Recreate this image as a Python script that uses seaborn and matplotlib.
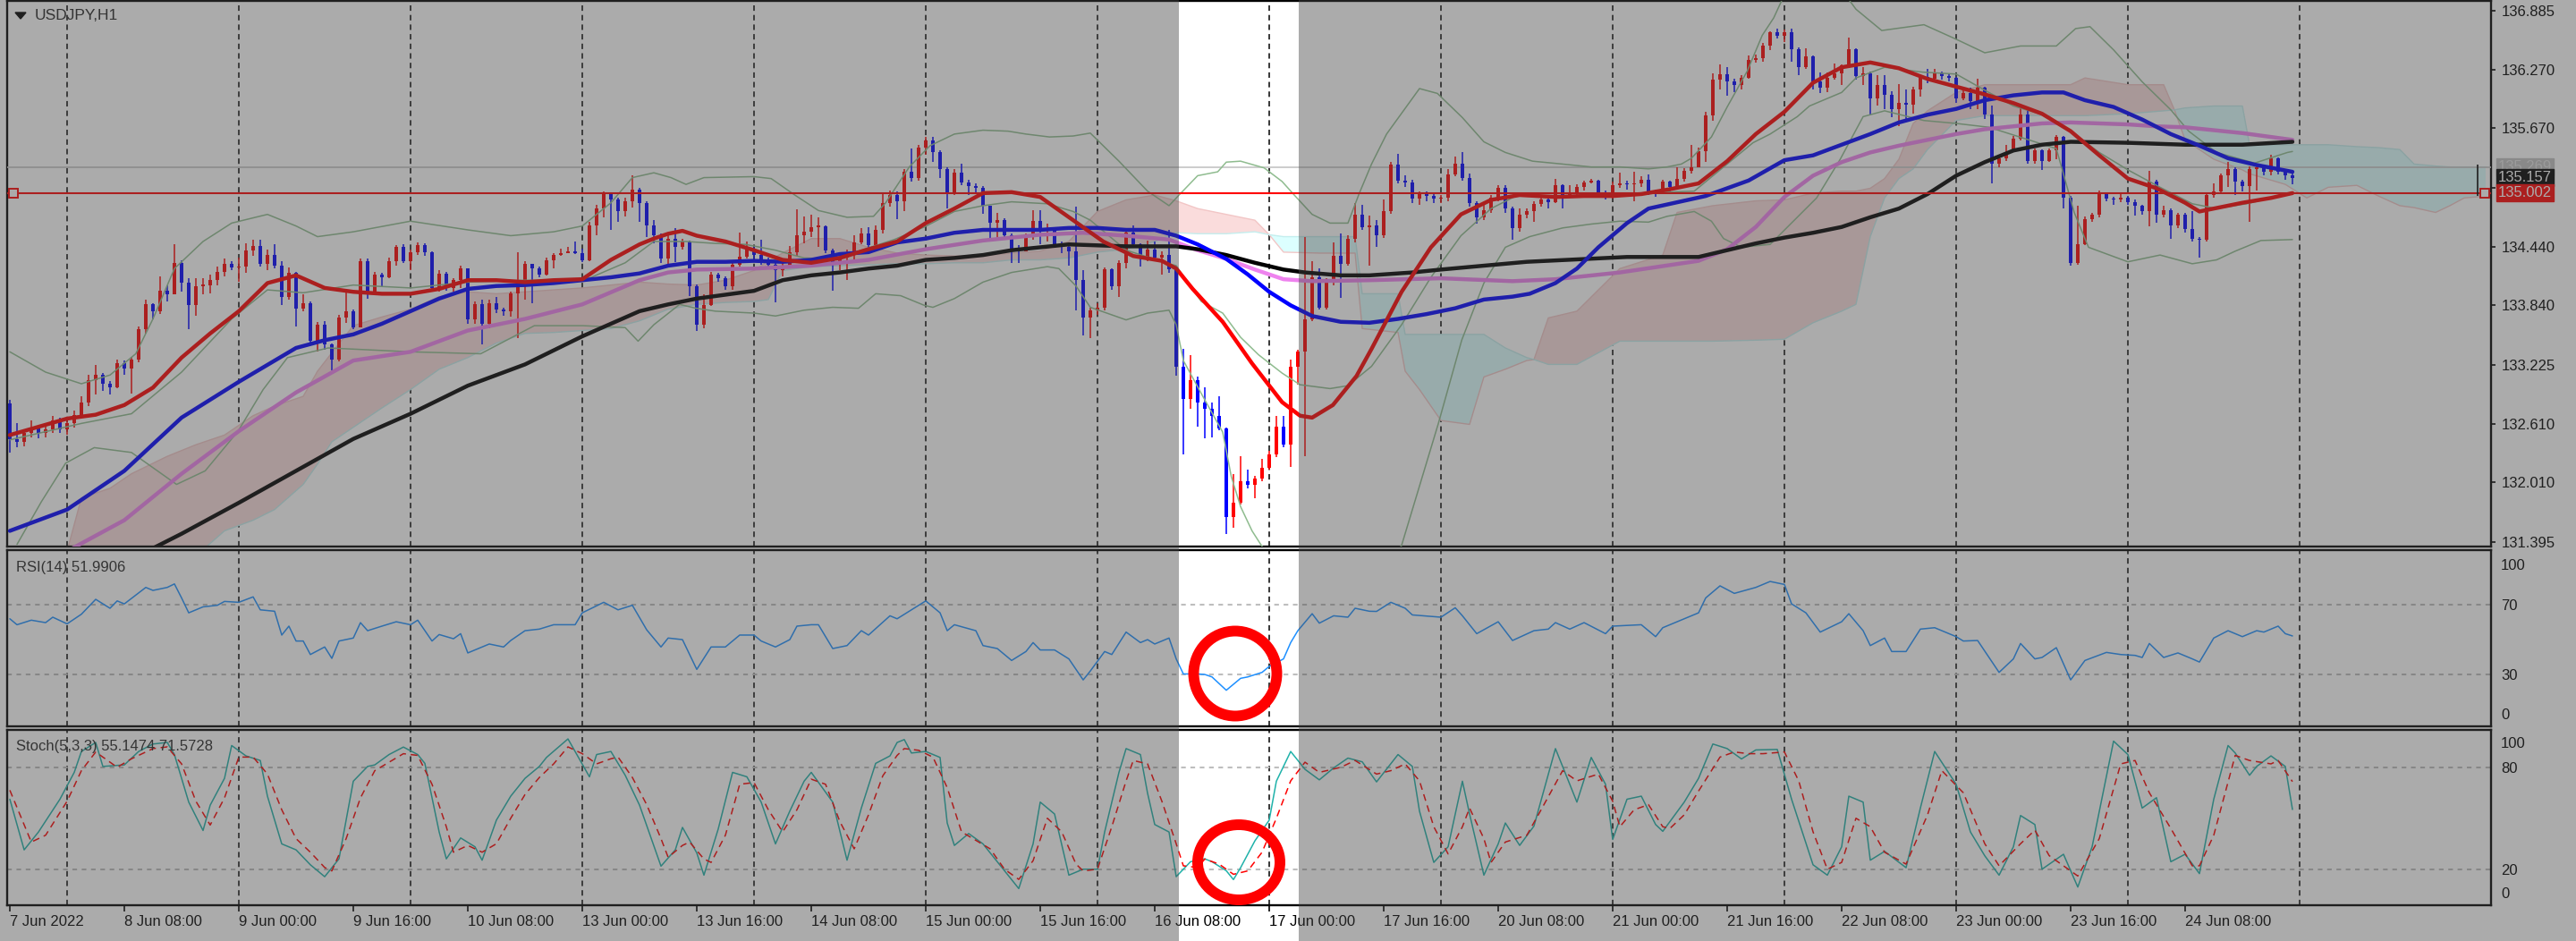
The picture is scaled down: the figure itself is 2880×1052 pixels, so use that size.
import numpy as np
import pandas as pd
import matplotlib
matplotlib.use("Agg")
import matplotlib.pyplot as plt
from matplotlib.patches import Rectangle, Ellipse, Polygon
from matplotlib.transforms import blended_transform_factory
import seaborn as sns

# ---------------- data (USDJPY H1, 7-24 Jun 2022) ----------------
first_open = 132.83
close = [
    132.46, 132.43, 132.52, 132.57, 132.52, 132.56, 132.65, 132.56, 132.62, 132.71,
    132.84, 133.07, 133.12, 133.03, 132.99, 133.24, 133.19, 133.28, 133.59, 133.85,
    133.78, 133.99, 133.95, 134.28, 134.07, 133.84, 134.04, 134.05, 134.10, 134.19,
    134.27, 134.23, 134.24, 134.41, 134.45, 134.27, 134.36, 134.25, 133.93, 134.18,
    133.81, 133.86, 133.47, 133.64, 133.44, 133.28, 133.71, 133.78, 133.61, 134.30,
    133.96, 134.16, 134.13, 134.30, 134.44, 134.30, 134.39, 134.46, 134.39, 134.02,
    134.17, 134.02, 134.10, 134.22, 133.70, 133.85, 133.65, 133.86, 133.80, 133.78,
    133.96, 134.10, 134.27, 134.22, 134.16, 134.31, 134.36, 134.38, 134.40, 134.38,
    134.31, 134.67, 134.84, 134.99, 134.93, 134.81, 134.92, 135.04, 134.90, 134.67,
    134.56, 134.32, 134.53, 134.44, 134.50, 134.04, 133.64, 133.84, 134.16, 134.12,
    134.04, 134.26, 134.34, 134.42, 134.36, 134.30, 134.26, 134.20, 134.25, 134.39,
    134.56, 134.60, 134.65, 134.66, 134.41, 134.29, 134.33, 134.38, 134.49, 134.58,
    134.46, 134.62, 134.90, 134.98, 134.92, 135.22, 135.16, 135.47, 135.54, 135.42,
    135.25, 135.01, 135.21, 135.11, 135.07, 135.05, 134.87, 134.69, 134.72, 134.56,
    134.42, 134.40, 134.55, 134.71, 134.61, 134.62, 134.47, 134.44, 134.40, 134.10,
    133.71, 133.79, 133.82, 134.21, 134.04, 134.28, 134.59, 134.47, 134.32, 134.42,
    134.33, 134.36, 134.21, 133.21, 132.87, 133.07, 132.84, 132.77, 132.70, 132.57,
    131.65, 131.80, 132.02, 131.99, 132.05, 132.16, 132.30, 132.59, 132.40, 133.21,
    133.36, 133.70, 134.13, 133.82, 134.08, 134.35, 134.27, 134.53, 134.78, 134.65,
    134.67, 134.56, 134.81, 135.29, 135.13, 135.11, 134.94, 134.99, 134.97, 134.94,
    134.95, 135.19, 135.30, 135.16, 134.90, 134.75, 134.82, 134.95, 135.05, 134.84,
    134.64, 134.78, 134.81, 134.89, 134.93, 134.91, 135.08, 134.98, 135.00, 135.06,
    135.11, 135.13, 135.01, 134.97, 135.08, 135.10, 135.09, 135.10, 135.14, 135.02,
    135.00, 135.12, 135.06, 135.15, 135.23, 135.27, 135.43, 135.80, 136.17, 136.23,
    136.15, 136.12, 136.19, 136.38, 136.39, 136.52, 136.66, 136.63, 136.66, 136.49,
    136.30, 136.41, 136.15, 136.09, 136.19, 136.24, 136.32, 136.49, 136.21, 136.24,
    135.98, 136.12, 136.02, 135.87, 135.93, 135.91, 136.07, 136.20, 136.18, 136.24,
    136.21, 136.19, 135.98, 136.03, 135.95, 136.09, 135.81, 135.30, 135.36, 135.42,
    135.56, 135.81, 135.33, 135.44, 135.33, 135.44, 135.58, 134.95, 134.28, 134.47,
    134.73, 134.78, 134.99, 134.94, 134.93, 134.95, 134.91, 134.87, 134.81, 135.12,
    134.78, 134.82, 134.67, 134.78, 134.63, 134.53, 134.52, 134.98, 135.02, 135.18,
    135.25, 135.12, 135.07, 135.25, 135.27, 135.22, 135.36, 135.22, 135.18, 135.157,
]
high = [
    132.86, 132.62, 132.56, 132.65, 132.60, 132.60, 132.70, 132.68, 132.66, 132.75,
    132.90, 133.12, 133.22, 133.14, 133.06, 133.28, 133.27, 133.31, 133.62, 133.90,
    133.86, 134.14, 134.05, 134.47, 134.31, 134.12, 134.12, 134.12, 134.16, 134.24,
    134.32, 134.30, 134.33, 134.48, 134.52, 134.52, 134.42, 134.47, 134.30, 134.23,
    134.19, 133.95, 133.88, 133.67, 133.68, 133.45, 133.74, 133.98, 133.80, 134.32,
    134.32, 134.19, 134.18, 134.33, 134.46, 134.47, 134.42, 134.49, 134.48, 134.40,
    134.20, 134.19, 134.12, 134.25, 134.21, 133.88, 133.90, 133.90, 133.93, 133.82,
    133.98, 134.39, 134.30, 134.27, 134.24, 134.33, 134.38, 134.43, 134.44, 134.50,
    134.43, 134.70, 134.88, 135.02, 134.99, 134.95, 134.95, 135.18, 135.05, 134.92,
    134.72, 134.58, 134.56, 134.64, 134.53, 134.51, 134.06, 133.95, 134.19, 134.18,
    134.14, 134.28, 134.59, 134.50, 134.44, 134.52, 134.33, 134.28, 134.28, 134.45,
    134.83, 134.76, 134.78, 134.75, 134.67, 134.43, 134.37, 134.42, 134.56, 134.64,
    134.65, 134.67, 134.99, 135.03, 135.02, 135.25, 135.46, 135.50, 135.58, 135.58,
    135.44, 135.27, 135.25, 135.30, 135.14, 135.10, 135.07, 134.86, 134.80, 134.74,
    134.58, 134.46, 134.58, 134.82, 134.82, 134.68, 134.64, 134.50, 134.47, 134.86,
    134.20, 133.82, 133.86, 134.23, 134.22, 134.31, 134.61, 134.67, 134.48, 134.51,
    134.50, 134.40, 134.62, 134.25, 133.39, 133.33, 133.10, 132.99, 132.84, 132.90,
    132.58, 132.10, 132.28, 132.14, 132.08, 132.25, 132.34, 132.70, 132.70, 133.28,
    133.38, 134.55, 134.30, 134.22, 134.12, 134.49, 134.58, 134.56, 134.90, 134.88,
    134.77, 134.72, 134.93, 135.32, 135.41, 135.18, 135.14, 135.02, 135.02, 135.00,
    134.98, 135.25, 135.38, 135.42, 135.20, 134.92, 134.88, 134.98, 135.08, 135.08,
    134.86, 134.84, 134.84, 134.92, 134.96, 134.95, 135.15, 135.09, 135.08, 135.09,
    135.13, 135.15, 135.14, 135.03, 135.12, 135.21, 135.13, 135.22, 135.17, 135.19,
    135.04, 135.14, 135.13, 135.27, 135.26, 135.50, 135.47, 135.84, 136.24, 136.33,
    136.30, 136.18, 136.22, 136.42, 136.43, 136.55, 136.67, 136.70, 136.69, 136.70,
    136.51, 136.50, 136.42, 136.25, 136.25, 136.34, 136.33, 136.61, 136.50, 136.30,
    136.26, 136.22, 136.22, 136.05, 136.13, 136.07, 136.10, 136.22, 136.28, 136.28,
    136.26, 136.24, 136.20, 136.06, 136.09, 136.18, 136.10, 135.90, 135.38, 135.50,
    135.59, 135.89, 135.89, 135.46, 135.45, 135.46, 135.60, 135.59, 134.97, 134.87,
    134.76, 134.80, 135.03, 135.01, 134.96, 135.00, 134.97, 134.93, 134.88, 135.23,
    135.14, 134.87, 134.84, 134.80, 134.80, 134.81, 134.55, 135.00, 135.10, 135.20,
    135.32, 135.27, 135.14, 135.28, 135.28, 135.28, 135.40, 135.37, 135.23, 135.20,
]
low = [
    132.32, 132.37, 132.38, 132.48, 132.47, 132.48, 132.52, 132.52, 132.50, 132.58,
    132.68, 132.80, 132.92, 132.96, 132.92, 132.98, 133.12, 132.93, 133.25, 133.55,
    133.70, 133.75, 133.88, 133.95, 133.98, 133.59, 133.73, 133.95, 133.96, 134.05,
    134.14, 134.20, 134.08, 134.18, 134.35, 134.24, 134.20, 134.22, 133.84, 133.90,
    133.62, 133.78, 133.44, 133.36, 133.38, 133.17, 133.26, 133.66, 133.59, 133.62,
    133.91, 133.95, 134.03, 134.12, 134.25, 134.28, 134.20, 134.36, 134.35, 133.98,
    133.98, 133.99, 133.98, 134.02, 133.65, 133.65, 133.44, 133.60, 133.76, 133.73,
    133.72, 133.50, 133.90, 133.86, 134.13, 134.15, 134.22, 134.35, 134.38, 134.37,
    134.29, 134.30, 134.56, 134.75, 134.62, 134.70, 134.76, 134.85, 134.70, 134.55,
    134.48, 134.28, 134.27, 134.29, 134.42, 133.94, 133.58, 133.60, 133.83, 134.08,
    134.00, 134.00, 134.24, 134.32, 134.30, 134.26, 134.22, 133.87, 134.14, 134.22,
    134.35, 134.48, 134.55, 134.44, 134.38, 133.99, 134.20, 134.10, 134.30, 134.47,
    134.43, 134.44, 134.58, 134.86, 134.73, 134.81, 135.12, 135.13, 135.40, 135.32,
    135.16, 134.84, 134.98, 135.08, 134.98, 135.00, 134.79, 134.53, 134.53, 134.52,
    134.28, 134.28, 134.40, 134.52, 134.47, 134.50, 134.44, 134.38, 134.25, 133.79,
    133.53, 133.50, 133.74, 133.79, 134.00, 133.93, 134.22, 134.44, 134.24, 134.30,
    134.30, 134.16, 134.18, 133.11, 132.30, 132.77, 132.59, 132.47, 132.48, 132.55,
    131.48, 131.54, 131.78, 131.95, 131.85, 132.02, 132.14, 132.27, 132.37, 132.17,
    133.02, 132.28, 133.68, 133.80, 133.80, 134.05, 133.92, 134.25, 134.49, 134.62,
    134.25, 134.44, 134.54, 134.79, 135.10, 135.06, 134.90, 134.88, 134.92, 134.90,
    134.90, 134.92, 135.17, 135.13, 134.86, 134.68, 134.72, 134.80, 134.92, 134.80,
    134.52, 134.60, 134.74, 134.70, 134.86, 134.84, 134.90, 134.84, 134.96, 134.98,
    135.03, 135.10, 134.98, 134.93, 134.94, 135.05, 135.04, 134.92, 135.06, 134.98,
    134.96, 134.99, 135.02, 135.04, 135.12, 135.20, 135.28, 135.32, 135.75, 136.07,
    136.01, 136.04, 136.07, 136.18, 136.35, 136.36, 136.48, 136.60, 136.56, 136.36,
    136.22, 136.28, 136.07, 136.03, 136.04, 136.17, 136.12, 136.30, 136.17, 136.12,
    135.81, 135.90, 135.87, 135.78, 135.69, 135.76, 135.82, 136.00, 136.14, 136.16,
    136.17, 136.15, 135.93, 135.96, 135.87, 135.87, 135.77, 135.10, 135.27, 135.33,
    135.42, 135.54, 135.30, 135.30, 135.24, 135.32, 135.35, 134.84, 134.25, 134.26,
    134.46, 134.70, 134.75, 134.92, 134.88, 134.91, 134.88, 134.77, 134.78, 134.66,
    134.69, 134.75, 134.53, 134.64, 134.59, 134.50, 134.33, 134.50, 134.95, 135.00,
    135.06, 134.98, 135.02, 134.70, 135.03, 135.18, 135.18, 135.19, 135.14, 135.09,
]

# moving averages (bar index, price)
ma_red_bar = [0, 8, 12, 16, 20, 24, 28, 32, 36, 40, 44, 48, 52, 56, 60, 64, 68, 72, 76, 80,
              84, 88, 90, 92, 94, 96, 100, 104, 108, 112, 116, 120, 124, 128, 132, 136, 140, 144, 148.6, 152.8,
              157, 161, 163, 165.3, 169.5, 173.6, 177.8, 180.3, 182, 184.9, 188.2, 190.3, 194.5, 198.6, 202.8, 207, 211, 216, 220, 224,
              228, 232, 236, 240, 244, 248, 252, 256, 260, 264, 268, 272, 276, 280, 284, 288, 292, 296, 300, 304,
              306, 308, 312, 316, 319]
ma_red = [132.50, 132.67, 132.71, 132.81, 132.99, 133.30, 133.55, 133.78, 134.07, 134.15,
          134.02, 133.98, 133.96, 133.96, 134.01, 134.10, 134.10, 134.08, 134.10, 134.11,
          134.31, 134.47, 134.53, 134.58, 134.61, 134.56, 134.50, 134.41, 134.31, 134.28,
          134.33, 134.42, 134.50, 134.69, 134.84, 135.00, 135.01, 134.96, 134.72, 134.50,
          134.35, 134.30, 134.22, 134.01, 133.67, 133.24, 132.84, 132.70, 132.68, 132.81,
          133.11, 133.39, 133.98, 134.44, 134.78, 134.93, 134.98, 134.96, 134.97, 134.97,
          134.99, 135.04, 135.10, 135.33, 135.61, 135.84, 136.14, 136.30, 136.35, 136.29,
          136.18, 136.10, 136.02, 135.93, 135.82, 135.64, 135.39, 135.15, 135.05, 134.90,
          134.81, 134.84, 134.90, 134.95, 135.00]
ma_blue_bar = [0, 8, 16, 24, 32, 40, 44, 48, 52, 56, 60, 64, 68, 72, 76, 80, 84, 88, 92, 96,
               100, 104, 108, 112, 116, 120, 124, 128, 132, 136, 140, 144, 148, 152, 156, 160, 163, 166, 170, 173,
               176, 179, 182, 186, 190, 194, 198, 202, 206, 210, 212.4, 216, 219, 222, 226, 229, 237, 243, 248, 252,
               256, 260, 264, 268, 272, 276, 280, 284, 287, 290, 294, 298, 302, 306, 310, 314, 319]
ma_blue = [131.51, 131.73, 132.13, 132.68, 133.05, 133.40, 133.48, 133.54, 133.65, 133.78,
           133.91, 134.01, 134.04, 134.05, 134.07, 134.10, 134.13, 134.17, 134.25, 134.29,
           134.29, 134.30, 134.29, 134.31, 134.37, 134.39, 134.49, 134.53, 134.59, 134.62,
           134.62, 134.62, 134.64, 134.64, 134.62, 134.62, 134.56, 134.47, 134.32, 134.16,
           133.98, 133.84, 133.73, 133.67, 133.66, 133.70, 133.75, 133.81, 133.90, 133.93,
           133.96, 134.07, 134.22, 134.44, 134.69, 134.84, 134.97, 135.13, 135.34, 135.39,
           135.50, 135.61, 135.73, 135.81, 135.87, 135.96, 136.01, 136.04, 136.04, 135.96,
           135.89, 135.76, 135.61, 135.49, 135.36, 135.29, 135.22]
ma_pink_bar = [8, 16, 24, 32, 40, 48, 56, 64, 72, 80, 88, 92, 96, 104, 112, 120, 128, 136, 144, 150,
               156, 162, 166, 170, 174, 178, 182, 190, 200, 210, 216, 225, 236, 240, 244, 248, 252, 256, 260, 264,
               268, 272, 276, 280, 284, 288, 292, 296, 300, 304, 308, 312, 316, 319]
ma_pink = [131.30, 131.62, 132.10, 132.54, 132.94, 133.27, 133.36, 133.58, 133.70, 133.85,
           134.10, 134.18, 134.21, 134.22, 134.25, 134.31, 134.42, 134.51, 134.57, 134.59,
           134.56, 134.52, 134.41, 134.32, 134.21, 134.11, 134.09, 134.10, 134.12, 134.09,
           134.11, 134.18, 134.30, 134.42, 134.65, 134.96, 135.18, 135.32, 135.42, 135.49,
           135.55, 135.61, 135.66, 135.69, 135.72, 135.73, 135.72, 135.71, 135.69, 135.68,
           135.65, 135.62, 135.58, 135.55]
ma_black_bar = [20, 24, 32, 40, 48, 56, 64, 72, 80, 88, 92, 96, 100, 104, 108, 112, 116, 120, 124, 128,
                132, 136, 140, 144, 148, 156, 163, 166, 170, 174, 178, 181, 186, 190, 196, 200, 206, 212, 226, 236,
                240, 244, 248, 252, 256, 260, 264, 268, 272, 276, 280, 284, 288, 296, 304, 312, 319]
ma_black = [131.33, 131.48, 131.80, 132.13, 132.46, 132.72, 133.01, 133.23, 133.52, 133.78,
            133.85, 133.91, 133.95, 133.99, 134.10, 134.15, 134.18, 134.22, 134.25, 134.31,
            134.33, 134.36, 134.41, 134.44, 134.47, 134.45, 134.45, 134.42, 134.36, 134.28,
            134.21, 134.18, 134.15, 134.15, 134.18, 134.21, 134.25, 134.29, 134.34, 134.34,
            134.41, 134.48, 134.54, 134.59, 134.65, 134.75, 134.84, 134.99, 135.18, 135.32,
            135.44, 135.50, 135.53, 135.52, 135.50, 135.50, 135.53]

# Bollinger bands
bb_up_bar = [0, 5, 10, 14, 17.6, 20, 23, 27, 31, 36, 40, 43, 48, 56, 64, 70, 76, 80, 84, 87,
             90, 92.4, 94.5, 97, 104, 106.4, 109.5, 113, 117, 120.7, 122.4, 125.7, 128.6, 132, 136, 139.5, 142, 145.3, 148.6, 151,
             155, 159, 162, 163.4, 166, 168.8, 170, 172, 175.3, 177.8, 179.5, 182, 184.5, 187, 188.6, 190.3, 192.4, 197, 199.5, 203,
             206, 209, 212.8, 217, 221, 225, 229, 231.6, 233.6, 235, 237.8, 240, 242.8, 244.9, 246.5, 248, 252, 256, 258, 261.6,
             267.5, 272, 276, 281, 286, 288.7, 290.7, 294, 298, 302, 304.5, 308.4, 313.7, 318.3, 319]
bb_up = [133.36, 133.15, 133.03, 133.12, 133.34, 133.70, 134.22, 134.50, 134.69, 134.78,
         134.66, 134.55, 134.60, 134.71, 134.62, 134.56, 134.60, 134.66, 134.90, 135.16,
         135.21, 135.16, 135.09, 135.16, 135.17, 135.15, 134.99, 134.82, 134.75, 134.76,
         134.90, 135.27, 135.49, 135.61, 135.65, 135.64, 135.61, 135.58, 135.59, 135.62,
         135.33, 135.02, 134.87, 134.98, 135.18, 135.22, 135.32, 135.33, 135.26, 135.12,
         134.98, 134.78, 134.69, 134.69, 135.00, 135.30, 135.61, 136.08, 136.03, 135.78,
         135.53, 135.42, 135.33, 135.30, 135.27, 135.27, 135.25, 135.27, 135.30, 135.36,
         135.58, 135.89, 136.26, 136.63, 136.81, 137.05, 137.20, 137.10, 136.90, 136.68,
         136.74, 136.59, 136.45, 136.52, 136.52, 136.70, 136.72, 136.48, 136.15, 135.86,
         135.64, 135.42, 135.31, 135.42, 135.43]
bb_mid_bar = [0, 10, 17, 24, 31, 36, 41, 48, 56, 64, 72, 80, 86, 90, 94.5, 98.6, 102.8, 107, 111, 115,
              119, 123.6, 127.8, 132, 136, 140, 145, 148.6, 151, 156, 162, 163, 166.5, 169.5, 172, 174.5, 177.8, 180.3, 184.5, 187,
              190.3, 194.5, 198.6, 202.8, 207, 211, 216, 220, 228, 235.4, 239.5, 243.6, 246, 249.8, 251.5, 256, 258, 262, 267.3, 272,
              275.6, 280, 285, 288.5, 292, 296, 300.5, 305, 308.4, 312.6, 319]
bb_mid = [132.45, 132.62, 132.72, 133.15, 133.70, 134.00, 133.97, 134.05, 134.02, 134.08,
          134.10, 134.09, 134.28, 134.50, 134.50, 134.48, 134.47, 134.41, 134.33, 134.32,
          134.41, 134.52, 134.65, 134.81, 134.87, 134.91, 134.89, 134.81, 134.72, 134.41,
          134.27, 134.25, 133.88, 133.76, 133.51, 133.33, 133.14, 133.02, 132.98, 133.01,
          133.21, 133.64, 134.13, 134.56, 134.84, 134.99, 134.95, 134.98, 135.00, 135.02,
          135.27, 135.52, 135.61, 135.79, 135.90, 136.04, 136.19, 136.30, 136.25, 136.23,
          136.08, 135.90, 135.79, 135.61, 135.42, 135.24, 135.06, 134.89, 134.84, 134.89,
          135.00]
bb_lo_bar = [1, 4.4, 7.8, 11.8, 17, 23.3, 27.3, 31.9, 35.4, 38.8, 44.5, 56, 65.8, 73.3, 80.1, 86, 87.8, 90, 93.6, 95.9,
             98.6, 104, 107, 111, 115, 118.6, 121, 124.5, 127.8, 129, 132, 136, 140, 145, 146.6, 149, 151, 156, 159, 162,
             163, 164, 166.5, 169.5, 170.7, 172, 173.6, 174.9, 180, 186, 190, 194.5, 199.6, 202.9, 206, 209, 212.4, 217, 221, 225,
             229, 231.6, 235.4, 237.8, 239.5, 242, 246, 252.5, 255.8, 259, 262, 267.5, 272, 276.6, 286, 288.5, 290.5, 296, 300.5, 305,
             308.4, 311, 314.6, 319]
bb_lo = [131.37, 131.81, 132.21, 132.37, 132.32, 131.99, 132.13, 132.54, 132.97, 133.30,
         133.40, 133.36, 133.34, 133.63, 133.63, 133.61, 133.47, 133.64, 133.85, 133.81,
         133.78, 133.76, 133.73, 133.79, 133.82, 133.81, 133.96, 133.94, 133.84, 133.82,
         133.91, 134.08, 134.18, 134.24, 134.22, 134.04, 133.82, 133.69, 133.76, 133.79,
         133.64, 133.27, 132.93, 132.53, 132.07, 131.76, 131.51, 131.36, 130.90, 130.70,
         130.85, 131.36, 132.61, 133.48, 134.07, 134.44, 134.55, 134.64, 134.68, 134.71,
         134.70, 134.76, 134.81, 134.71, 134.53, 134.44, 134.47, 134.95, 135.35, 135.79,
         135.85, 135.75, 135.72, 135.68, 135.46, 134.80, 134.44, 134.29, 134.36, 134.27,
         134.31, 134.40, 134.51, 134.52]

# Ichimoku cloud (senkou span A / B)
cloud_bar = [8, 10, 14, 17, 22, 26, 30, 34, 37, 41, 43, 45, 48, 52, 56, 60, 64, 68, 72, 76,
             80, 84, 88, 92, 96, 100, 104, 106, 108, 112, 116, 120, 124, 128, 132, 136, 140, 144, 148, 152,
             156, 160, 163, 166, 170, 174, 176, 178, 183, 188, 189, 194, 195, 197, 200, 204, 206, 209, 212, 213,
             215, 219, 222, 225, 231, 233, 238, 244, 248, 252, 256, 258, 260, 262, 264, 266, 268, 272, 276, 282,
             288, 290, 296, 301, 302.5, 304, 308, 312, 313, 318, 321, 324, 328, 331, 334, 336, 339, 341, 343, 346]
span_a = [131.30, 131.85, 131.95, 132.10, 132.28, 132.40, 132.50, 132.70, 132.80, 132.90,
          133.16, 133.35, 133.63, 133.72, 133.80, 133.93, 133.98, 133.96, 133.98, 134.00,
          134.02, 134.05, 134.08, 134.06, 134.05, 134.10, 134.20, 134.30, 134.38, 134.53,
          134.53, 134.44, 134.38, 134.36, 134.35, 134.35, 134.38, 134.40, 134.50, 134.81,
          134.93, 134.98, 134.92, 134.84, 134.78, 134.72, 134.57, 134.39, 134.38, 134.38,
          133.60, 133.56, 133.16, 132.97, 132.65, 132.61, 133.10, 133.18, 133.27, 133.28,
          133.71, 133.78, 134.00, 134.22, 134.36, 134.80, 134.87, 134.92, 134.93, 135.00,
          135.02, 135.02, 135.05, 135.15, 135.35, 135.72, 135.85, 136.04, 136.12, 136.12,
          136.12, 136.19, 136.12, 136.12, 135.86, 135.55, 135.35, 135.24, 135.20, 135.09,
          134.95, 135.06, 135.08, 134.97, 134.87, 134.85, 134.80, 134.87, 134.95, 134.97]
span_b = [130.90, 130.90, 130.95, 131.00, 131.10, 131.25, 131.51, 131.62, 131.73, 131.99,
          132.20, 132.43, 132.58, 132.78, 132.97, 133.18, 133.30, 133.45, 133.55, 133.56,
          133.58, 133.60, 133.68, 133.80, 133.85, 133.87, 133.88, 133.90, 134.20, 134.24,
          134.25, 134.26, 134.27, 134.27, 134.28, 134.28, 134.31, 134.31, 134.33, 134.39,
          134.42, 134.50, 134.59, 134.58, 134.58, 134.60, 134.57, 134.55, 134.55, 134.55,
          133.96, 133.96, 133.54, 133.54, 133.54, 133.54, 133.54, 133.40, 133.30, 133.28,
          133.23, 133.23, 133.35, 133.47, 133.47, 133.47, 133.47, 133.48, 133.49, 133.66,
          133.78, 133.85, 134.55, 134.95, 135.15, 135.25, 135.45, 135.75, 135.80, 135.80,
          135.80, 135.80, 135.82, 135.85, 135.86, 135.88, 135.90, 135.90, 135.50, 135.50,
          135.50, 135.50, 135.48, 135.47, 135.45, 135.30, 135.28, 135.27, 135.27, 135.27]

# RSI(14)
rsi_bar = [0, 1, 3, 5, 6, 8, 10, 12, 14, 15, 16, 19, 20, 22, 23, 24, 25, 27, 29, 30,
           32, 34, 35, 37, 38, 39, 40, 41, 42, 44, 45, 46, 48, 49, 50, 52, 54, 56, 57, 59,
           60, 62, 63, 64, 66, 67, 69, 70, 72, 74, 76, 79, 80, 83, 85, 87, 89, 91, 92, 94,
           96, 98, 100, 102, 104, 105, 107, 109, 110, 112, 113, 115, 117, 119, 120, 123, 124, 126, 128, 130,
           131, 132, 135, 136, 138, 140, 142, 143, 144, 146, 148, 150, 151, 153, 154, 156, 158, 159, 160, 162,
           163, 164, 166, 167, 168, 170, 172, 173, 175, 176, 178, 179, 180, 182, 183, 185, 187, 188, 190, 191,
           193, 195, 196, 200, 202, 203, 205, 208, 210, 213, 215, 216, 218, 220, 223, 224, 228, 230, 231, 236,
           237, 239, 241, 244, 246, 248, 249, 251, 253, 256, 257, 259, 260, 262, 263, 265, 267, 269, 272, 273,
           275, 278, 280, 281, 283, 284, 286, 288, 290, 293, 295, 297, 298, 299, 301, 303, 305, 306, 308, 310,
           312, 314, 315, 317, 318, 319]
rsi_val = [61.8, 58.4, 61.0, 59.6, 62.7, 58.9, 64.4, 72.9, 67.8, 72.0, 70.3, 79.7, 78.0, 79.7, 81.7, 73.7, 65.2, 68.6, 69.5, 71.7,
           71.2, 74.3, 66.9, 66.1, 52.5, 57.6, 49.1, 49.1, 41.4, 45.7, 39.2, 49.1, 50.8, 59.6, 55.0, 57.6, 60.1, 58.4, 61.0, 49.1,
           52.8, 50.4, 53.3, 42.3, 45.7, 47.4, 45.7, 49.4, 55.0, 55.9, 58.4, 58.4, 65.2, 71.2, 66.9, 69.5, 55.5, 45.7, 50.8, 49.9,
           32.9, 45.7, 45.7, 52.5, 52.5, 49.1, 45.7, 49.9, 57.6, 58.4, 58.4, 44.8, 46.5, 55.0, 52.5, 63.5, 61.8, 66.9, 72.0, 65.2,
           55.0, 58.4, 55.0, 46.5, 44.8, 38.0, 43.1, 48.2, 44.0, 44.0, 38.9, 26.9, 32.0, 43.1, 41.4, 54.2, 48.2, 49.9, 47.4, 50.8,
           38.9, 30.3, 30.3, 30.0, 28.6, 21.0, 27.8, 28.6, 31.2, 34.6, 38.9, 48.2, 55.0, 64.7, 59.3, 63.5, 62.7, 67.8, 66.1, 66.0,
           71.2, 67.8, 64.0, 62.7, 68.1, 63.5, 53.3, 60.1, 49.4, 55.0, 55.9, 59.6, 55.9, 59.6, 53.3, 57.6, 58.4, 51.6, 56.7, 65.2,
           73.7, 80.6, 76.3, 79.7, 83.1, 81.4, 70.3, 65.2, 54.2, 60.1, 64.7, 55.0, 46.5, 50.8, 43.1, 43.1, 55.9, 56.7, 51.6, 49.1,
           49.4, 31.2, 38.9, 47.7, 38.9, 39.7, 45.3, 26.9, 38.0, 42.6, 41.4, 40.9, 39.7, 47.7, 39.7, 42.3, 38.9, 37.1, 50.8, 55.0,
           51.6, 55.0, 54.2, 57.6, 53.3, 51.99]

# Stochastic(5,3,3): main and signal
st_bar = [0, 2, 4, 7, 9, 10, 12, 13, 16, 18, 20, 22, 23, 25, 27, 28, 30, 31, 33, 35,
          36, 38, 40, 42, 44, 46, 48, 50, 51, 53, 55, 57, 58, 60, 61, 63, 65, 66, 68, 70,
          72, 74, 75, 78, 79, 81, 82, 84, 86, 88, 91, 93, 94, 96, 97, 99, 101, 103, 105, 107,
          109, 111, 112, 115, 117, 119, 121, 123, 124, 125, 126, 128, 130, 131, 132, 134, 136, 138, 141, 143,
          144, 146, 148, 150, 152, 153, 155, 156, 158, 159, 160, 162, 163, 165, 167, 168, 170, 171, 172, 174,
          176, 177, 179, 181, 183, 185, 187, 189, 191, 194, 196, 197, 199, 201, 203, 204, 206, 208, 209, 211,
          213, 216, 219, 221, 223, 224, 226, 228, 230, 231, 234, 236, 238, 240, 242, 244, 247, 249, 252, 254,
          256, 257, 259, 260, 262, 265, 267, 269, 272, 274, 276, 278, 280, 281, 283, 284, 287, 289, 291, 294,
          296, 298, 300, 302, 304, 306, 308, 310, 311, 313, 314, 316, 318, 319]
st_main = [61.2, 31.4, 41.9, 61.2, 77.0, 89.3, 94.6, 80.5, 81.4, 89.3, 93.7, 94.6, 87.5, 59.5, 42.8, 57.7, 73.5, 92.8, 86.7, 84.0,
           63.0, 34.9, 31.4, 22.6, 15.6, 26.1, 71.8, 80.5, 81.4, 87.5, 91.9, 87.5, 82.3, 41.9, 26.1, 38.4, 33.2, 25.3, 48.9, 63.0,
           73.5, 80.5, 85.8, 96.7, 89.3, 74.4, 87.5, 89.3, 75.3, 57.7, 21.8, 31.4, 44.6, 29.6, 16.5, 43.7, 77.0, 74.4, 59.5, 34.9,
           54.2, 71.8, 77.0, 59.5, 25.3, 56.0, 82.3, 86.7, 94.6, 96.3, 88.4, 89.3, 85.8, 47.2, 34.0, 41.0, 34.9, 24.4, 8.6, 34.9,
           59.5, 52.5, 16.5, 20.0, 20.0, 41.9, 77.0, 91.0, 87.5, 64.7, 46.3, 41.9, 15.6, 24.4, 26.1, 24.4, 19.1, 13.9, 20.9, 36.7,
           48.9, 71.8, 89.3, 78.8, 72.6, 79.6, 85.4, 83.2, 71.4, 87.5, 80.5, 54.2, 24.0, 33.2, 71.8, 52.5, 16.5, 34.9, 47.2, 34.0,
           45.4, 91.0, 59.5, 85.8, 70.0, 37.5, 61.2, 63.0, 46.3, 42.3, 59.5, 73.5, 93.7, 91.0, 84.9, 90.2, 90.5, 61.2, 22.6, 16.5,
           33.2, 63.0, 59.5, 25.3, 30.5, 20.9, 56.0, 89.3, 70.0, 41.9, 27.9, 16.5, 33.2, 51.6, 46.3, 20.0, 28.8, 9.5, 33.2, 95.4,
           87.5, 56.0, 62.1, 24.4, 28.8, 17.4, 61.2, 92.8, 88.4, 75.3, 80.5, 86.7, 80.5, 55.15]
sig_bar = [0, 3, 5, 8, 10, 12, 15, 17, 20, 22, 24, 26, 28, 30, 32, 34, 36, 38, 40, 42,
           44, 45, 47, 49, 51, 53, 55, 57, 59, 61, 62, 64, 66, 68, 70, 72, 74, 76, 78, 80,
           82, 84, 85, 87, 89, 91, 92, 94, 95, 97, 98, 100, 102, 104, 106, 108, 110, 112, 114, 116,
           118, 120, 122, 124, 125, 127, 129, 131, 133, 135, 137, 139, 141, 143, 145, 147, 149, 150, 152, 154,
           156, 157, 159, 161, 163, 164, 166, 167, 169, 171, 173, 175, 177, 179, 181, 183, 186, 188, 191, 193,
           195, 197, 199, 201, 203, 204, 206, 207, 209, 212, 214, 217, 219, 222, 224, 225, 227, 229, 231, 232,
           234, 236, 239, 241, 243, 245, 248, 250, 252, 254, 256, 258, 260, 262, 265, 268, 270, 273, 276, 278,
           281, 283, 285, 289, 292, 295, 297, 299, 302, 305, 306, 308, 311, 313, 316, 317, 319]
sig_val = [66.5, 36.0, 40.0, 60.0, 78.0, 89.0, 80.0, 85.0, 91.0, 92.0, 82.0, 60.0, 46.0, 62.0, 86.0, 86.0, 76.0, 55.0, 38.0, 30.0,
           21.0, 19.0, 38.0, 62.0, 78.0, 83.0, 88.0, 87.0, 70.0, 45.0, 30.0, 34.0, 30.0, 35.0, 50.0, 64.0, 74.0, 82.0, 92.0, 88.0,
           82.0, 85.0, 86.0, 74.0, 58.0, 38.0, 27.0, 34.0, 36.0, 26.0, 24.0, 40.0, 70.0, 71.0, 55.0, 42.0, 55.0, 73.0, 70.0, 48.0,
           32.0, 52.0, 75.0, 87.0, 91.0, 90.0, 86.0, 68.0, 42.0, 37.0, 32.0, 20.0, 14.0, 25.0, 50.0, 42.0, 23.0, 19.0, 20.0, 45.0,
           72.0, 84.0, 82.0, 60.0, 35.0, 22.0, 21.0, 26.0, 23.0, 17.0, 19.0, 30.0, 50.0, 72.0, 83.0, 77.0, 80.0, 84.0, 76.0, 78.0,
           82.0, 72.0, 45.0, 29.0, 45.0, 56.0, 38.0, 24.0, 36.0, 40.0, 55.0, 78.0, 72.0, 76.0, 60.0, 45.0, 55.0, 58.0, 45.0, 44.0,
           52.0, 66.0, 86.0, 89.0, 88.0, 88.0, 89.0, 72.0, 42.0, 20.0, 24.0, 50.0, 45.0, 30.0, 23.0, 52.0, 78.0, 65.0, 35.0, 22.0,
           35.0, 43.0, 28.0, 16.0, 38.0, 82.0, 84.0, 65.0, 44.0, 22.0, 22.0, 40.0, 87.0, 84.0, 82.0, 84.0, 71.57]

# axis text
price_ticks = [136.885, 136.270, 135.670, 135.055, 134.440, 133.840, 133.225, 132.610, 132.010, 131.395]
time_bars = [0, 16, 32, 48, 64, 80, 96, 112, 128, 144, 160, 176, 192, 208, 224, 240, 256, 272, 288, 304]
time_labels = ["7 Jun 2022", "8 Jun 08:00", "9 Jun 00:00", "9 Jun 16:00", "10 Jun 08:00",
               "13 Jun 00:00", "13 Jun 16:00", "14 Jun 08:00", "15 Jun 00:00", "15 Jun 16:00",
               "16 Jun 08:00", "17 Jun 00:00", "17 Jun 16:00", "20 Jun 08:00", "21 Jun 00:00",
               "21 Jun 16:00", "22 Jun 08:00", "23 Jun 00:00", "23 Jun 16:00", "24 Jun 08:00"]
day_bars = [8, 32, 56, 80, 104, 128, 152, 176, 200, 224, 248, 272, 296, 320]
bid, ask, hline = 135.157, 135.269, 135.002

# ---------------- figure ----------------
sns.set_style("white")
plt.rcParams["font.family"] = ["Liberation Sans", "DejaVu Sans"]

W, H = 2880, 1052
fig = plt.figure(figsize=(W / 100, H / 100), dpi=100, facecolor="white")


def panel(top, bottom):
    return fig.add_axes([8 / W, 1 - bottom / H, (2785 - 8) / W, (bottom - top) / H])


ax = panel(1, 611)
ax_rsi = panel(615, 812)
ax_st = panel(816, 1012)

for a in (ax, ax_rsi, ax_st):
    a.set_facecolor("white")
    for s in a.spines.values():
        s.set_color("black")
        s.set_linewidth(1.7)
    for b in day_bars:
        a.axvline(b, color="black", lw=1.1, ls=(0, (4, 3)), zorder=1)

# ichimoku cloud
ca, cb, cx = np.array(span_a), np.array(span_b), np.array(cloud_bar)
ax.fill_between(cx, ca, cb, where=ca >= cb, interpolate=True, color="#FADCDC", lw=0, zorder=2)
ax.fill_between(cx, ca, cb, where=ca <= cb, interpolate=True, color="#DCFFFF", lw=0, zorder=2)
ax.plot(cx, ca, color="#F2C6C6", lw=1.0, zorder=2.5)
ax.plot(cx, cb, color="#C4EEEE", lw=1.0, zorder=2.5)

ax.axhline(ask, color="#C8C8C8", lw=1.3, zorder=3)

# candles
df = pd.DataFrame({"close": close, "high": high, "low": low})
df["open"] = [first_open] + close[:-1]
df["bar"] = np.arange(len(df))
df["high"] = df[["high", "open", "close"]].max(axis=1)
df["low"] = df[["low", "open", "close"]].min(axis=1)
up = df["close"] >= df["open"]
ccol = np.where(up, "#FF0000", "#0000FF")
ax.vlines(df["bar"], df["low"], df["high"], colors=ccol, lw=1.1, zorder=5)
body = (df["close"] - df["open"]).abs().clip(lower=0.012)
ax.bar(df["bar"], body, bottom=df[["open", "close"]].min(axis=1), width=0.6, color=ccol, lw=0, zorder=6)


def line(a, xs, ys, color, lw, z):
    sns.lineplot(x=xs, y=ys, ax=a, color=color, lw=lw, zorder=z, estimator=None, legend=False)


for xs, ys in [(bb_up_bar, bb_up), (bb_mid_bar, bb_mid), (bb_lo_bar, bb_lo)]:
    line(ax, xs, ys, "#8FBC8F", 1.1, 7)
line(ax, ma_pink_bar, ma_pink, "#EE82EE", 3.2, 8)
line(ax, ma_black_bar, ma_black, "#000000", 3.2, 9)
line(ax, ma_blue_bar, ma_blue, "#0000FF", 3.2, 10)
line(ax, ma_red_bar, ma_red, "#FF0000", 3.2, 11)

# horizontal line object with its end squares, last-bar marker
ax.axhline(hline, color="#FF0000", lw=1.5, zorder=12)
ax.plot([0.45, 345.9], [hline, hline], ls="none", marker="s", ms=6.5, mfc="white",
        mec="#FF0000", mew=1.4, zorder=13, clip_on=False)
ax.vlines(344.9, 134.97, 135.29, color="black", lw=1.2, zorder=12)

ax.set_xlim(-0.375, 346.75)
ax.set_ylim(131.348, 136.986)
ax.yaxis.tick_right()
ax.set_yticks(price_ticks)
ax.set_yticklabels([f"{t:.3f}" for t in price_ticks])
ax.tick_params(axis="y", right=True, left=False, labelright=True, labelleft=False,
               direction="out", length=3.5, width=1.2, pad=5, labelsize=12, colors="black")
ax.tick_params(axis="x", bottom=False, labelbottom=False)

# current price labels on the scale
tr = blended_transform_factory(fig.transFigure, ax.transData)
for price, fc, tc, z in [(ask, "#C0C0C0", "#E2E2E2", 20), (bid, "#000000", "white", 21),
                         (hline, "#FF0000", "white", 22)]:
    ax.text(2793 / W, price, f"{price:.3f}", transform=tr, ha="left", va="center", fontsize=12,
            color=tc, zorder=z, clip_on=False,
            bbox=dict(boxstyle="square,pad=0.12", fc=fc, ec=fc))

# RSI panel
line(ax_rsi, rsi_bar, rsi_val, "#1E90FF", 1.1, 5)
for lv in (70, 30):
    ax_rsi.axhline(lv, color="#BEBEBE", lw=1.5, ls=(0, (2.5, 2.5)), zorder=2)
ax_rsi.set_xlim(-0.375, 346.75)
ax_rsi.set_ylim(0.4, 101)
ax_rsi.yaxis.tick_right()
ax_rsi.set_yticks([93, 70, 30, 7.5])
ax_rsi.set_yticklabels(["100", "70", "30", "0"])
ax_rsi.tick_params(axis="y", right=True, left=False, labelright=True, labelleft=False,
                   direction="out", length=0, pad=8, labelsize=12, colors="black")
ax_rsi.tick_params(axis="x", bottom=False, labelbottom=False)

# Stochastic panel
line(ax_st, st_bar, st_main, "#20B2AA", 1.1, 5)
line(ax_st, sig_bar, sig_val, "#FF0000", 1.1, 6)
ax_st.lines[-1].set_dashes([5, 3.5])
for lv in (80, 20):
    ax_st.axhline(lv, color="#BEBEBE", lw=1.5, ls=(0, (2.5, 2.5)), zorder=2)
ax_st.set_xlim(-0.375, 346.75)
ax_st.set_ylim(-1.2, 102)
ax_st.yaxis.tick_right()
ax_st.set_yticks([94.6, 80, 20, 6])
ax_st.set_yticklabels(["100", "80", "20", "0"])
ax_st.tick_params(axis="y", right=True, left=False, labelright=True, labelleft=False,
                  direction="out", length=0, pad=8, labelsize=12, colors="black")
ax_st.set_xticks(time_bars)
ax_st.set_xticklabels(time_labels, ha="left")
ax_st.tick_params(axis="x", bottom=True, direction="out", length=5, width=1.2, pad=3,
                  labelsize=12, colors="black")

for a in (ax, ax_rsi, ax_st):
    a.set_xlabel("")
    a.set_ylabel("")

# panel captions
fig.add_artist(Polygon([(17 / W, 1 - 14 / H), (29 / W, 1 - 14 / H), (23 / W, 1 - 21 / H)],
                       closed=True, transform=fig.transFigure, fc="black", ec="black", zorder=5))
fig.text(39 / W, 1 - 17 / H, "USDJPY,H1", ha="left", va="center", fontsize=12.5, zorder=5)
fig.text(18 / W, 1 - 635 / H, "RSI(14) 51.9906", ha="left", va="center", fontsize=12, zorder=5)
fig.text(18 / W, 1 - 834 / H, "Stoch(5,3,3) 55.1474 71.5728", ha="left", va="center", fontsize=12, zorder=5)

# grey veil over everything except the highlighted period
veil = (70 / 255, 70 / 255, 70 / 255)
fig.add_artist(Rectangle((0, 0), 1318 / W, 1, transform=fig.transFigure, fc=veil, ec="none",
                         alpha=0.45, zorder=100))
fig.add_artist(Rectangle((1452 / W, 0), 1 - 1452 / W, 1, transform=fig.transFigure, fc=veil,
                         ec="none", alpha=0.45, zorder=100))

# red marker rings
for cxp, cyp, wp, hp in [(1381, 753, 93, 95), (1385, 964, 92, 84)]:
    fig.add_artist(Ellipse((cxp / W, 1 - cyp / H), wp / W, hp / H, transform=fig.transFigure,
                           fill=False, ec="#FF0000", lw=8.6, zorder=200))

fig.savefig("out.png", dpi=100)
